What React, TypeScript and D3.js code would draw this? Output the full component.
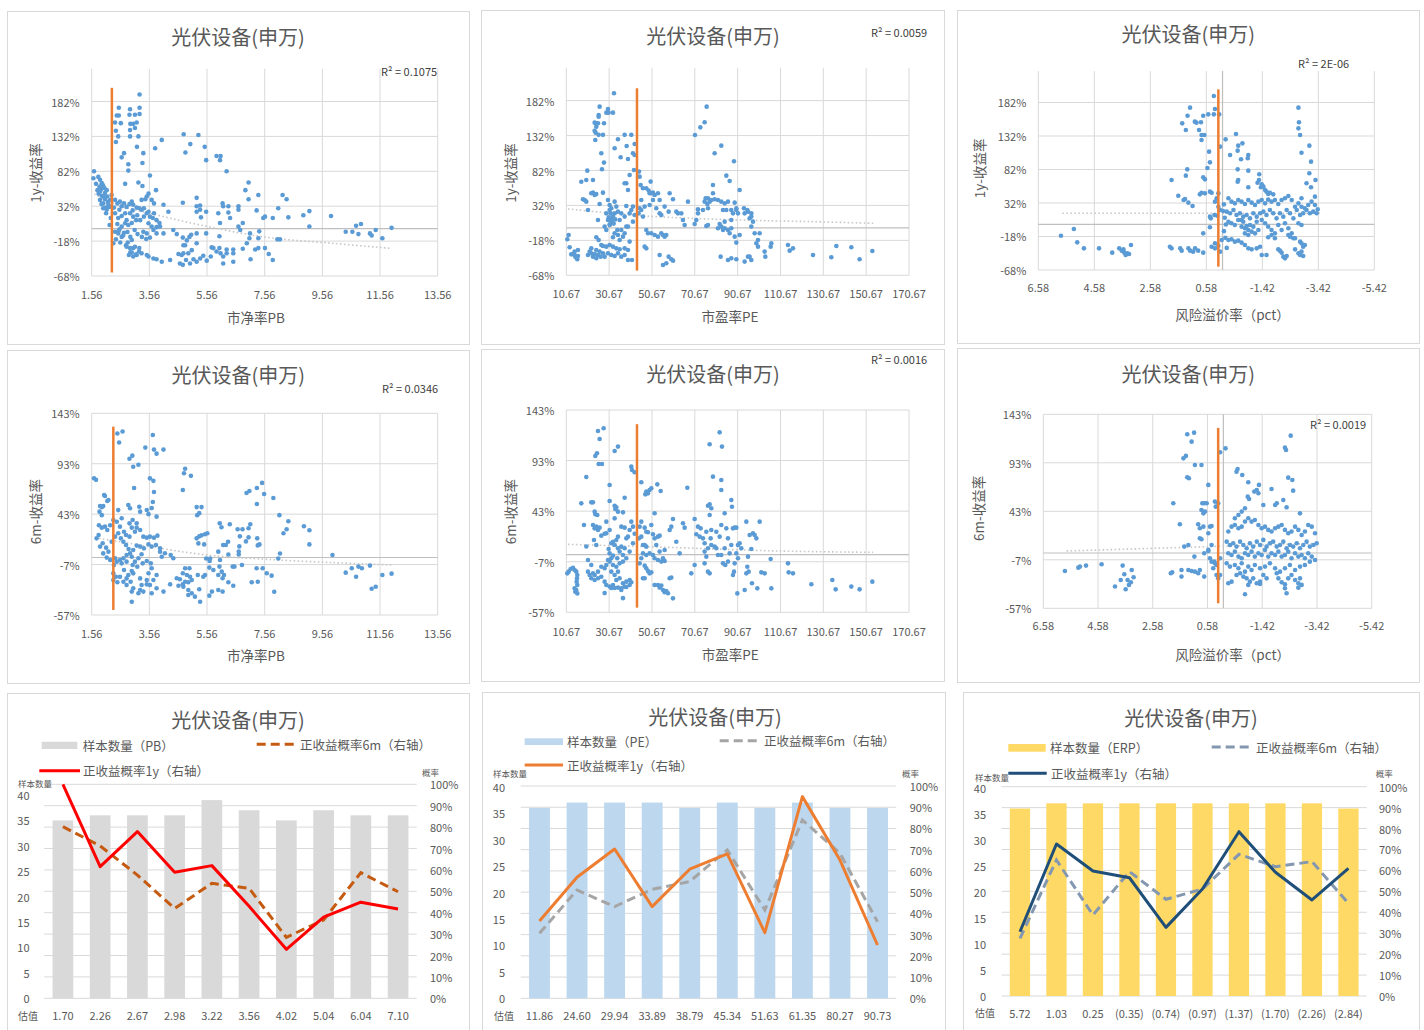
import React from 'react';
import * as d3 from 'd3';

type P = [number, number];

// ---------------- DATA ----------------
const chartTitle = '光伏设备(申万)';
const pbTicks = [1.56, 3.56, 5.56, 7.56, 9.56, 11.56, 13.56];
const peTicks = [10.67, 30.67, 50.67, 70.67, 90.67, 110.67, 130.67, 150.67, 170.67];
const erpTicks = [6.58, 4.58, 2.58, 0.58, -1.42, -3.42, -5.42];
const ret1yTicks = [-0.68, -0.18, 0.32, 0.82, 1.32, 1.82];
const ret6mTicks = [-0.57, -0.07, 0.43, 0.93, 1.43];
const ret1yDomain: P = [-0.68, 2.29];
const ret6mDomain: P = [-0.57, 1.43];
const r2Labels = ['R² = 0.1075', 'R² = 0.0059', 'R² = 2E-06', 'R² = 0.0346', 'R² = 0.0016', 'R² = 0.0019'];

// current value marker lines: [x, low, high]
const curPB1y = [2.26, -0.63, 2.016];
const curPE1y = [43.67, -0.613, 1.997];
const curERP1y = [0.15, -0.63, 2.016];
const curPB6m = [2.31, -0.52, 1.298];
const curPE6m = [43.67, -0.524, 1.29];
const curERP6m = [0.19, -0.518, 1.29];

// trend lines
const trendPB1y: P[] = [[1.65, 0.495], [2.5, 0.33], [3.58, 0.218], [5.32, 0.051], [7.63, -0.126], [9.94, -0.212], [11.9, -0.283]];
const trendPE1y: P[] = [[11.45, 0.27], [47.25, 0.17], [90.83, 0.112], [125.07, 0.088], [154.64, 0.064]];
const trendERP1y: P[] = [[5.72, 0.166], [-3.48, 0.166]];
const trendPB6m: P[] = [[1.68, 0.197], [3.58, 0.108], [5.55, 0.025], [7.63, -0.018], [9.94, -0.051], [12.02, -0.074]];
const trendPE6m: P[] = [[11.45, 0.102], [62.81, 0.069], [109.5, 0.036], [153.9, 0.023]];
const trendERP6m: P[] = [[5.73, 0.021], [-3.47, 0.10]];

const pb1y: P[] = [
[3.22,1.92],[2.50,1.73],[2.89,1.71],[3.22,1.73],[2.43,1.62],[2.50,1.62],[2.87,1.63],[3.06,1.63],[3.22,1.64],[2.37,1.52],[2.57,1.51],[2.90,1.50],[3.0,1.50],[3.12,1.52],[2.40,1.40],[2.89,1.41],[3.06,1.44],[2.48,1.32],[2.89,1.32],[3.18,1.32],[2.40,1.24],[3.13,1.17],[2.60,1.02],[2.68,1.08],[3.35,1.08],[3.32,0.94],[2.83,0.92],[2.83,0.83],[2.72,0.64],[3.18,0.66],[3.32,0.61],[3.58,0.76],[3.79,0.55],[3.99,1.27],[3.76,1.15],
[4.75,1.35],[5.26,1.34],[4.98,1.21],[4.81,1.09],[5.48,1.17],[5.53,0.98],[5.89,1.04],[6.03,1.04],[6.01,0.98],[6.24,0.82],[7.0,0.66],[6.89,0.55],[7.0,0.42],[7.34,0.48],[8.18,0.48],[8.32,0.42],[5.2,0.44],[4.72,0.37],[4.05,0.34],[4.22,0.24],[5.2,0.32],[5.32,0.33],[5.32,0.27],[5.2,0.24],[5.35,0.16],[5.53,0.24],[5.95,0.22],[6.10,0.36],[6.12,0.32],[6.30,0.32],[6.30,0.23],[6.36,0.15],[6.01,0.08],[6.65,0.32],[6.65,0.27],[7.28,0.26],[7.51,0.15],[7.57,0.17],[7.84,0.15],[8.03,0.29],[8.38,0.16],[8.90,0.19],[9.11,0.25],[9.11,0.03],[9.86,0.18],[10.37,-0.045],[10.60,-0.045],[10.81,-0.08],[10.73,0.04],[10.90,0.065],[11.21,-0.07],[11.27,-0.10],[11.41,-0.02],[11.64,-0.14],[11.96,0.01],[6.65,0.03],[6.71,-0.02],[6.80,0.08],[7.05,-0.07],[7.37,-0.04],[7.03,-0.14],[6.94,-0.21],[8.0,-0.155],[8.09,-0.155],[7.34,-0.14],[7.23,-0.30],[7.34,-0.28],[7.57,-0.28],[7.70,-0.365],[7.84,-0.45],[7.07,-0.44],
[6.80,-0.29],[6.47,-0.30],[6.47,-0.355],[6.24,-0.30],[6.24,-0.355],[6.12,-0.40],[6.12,-0.50],[6.47,-0.475],[5.99,-0.28],[5.89,-0.33],[6.03,-0.355],[5.78,-0.28],[5.69,-0.40],[5.55,-0.46],[5.43,-0.39],[5.32,-0.43],[5.2,-0.475],[5.09,-0.44],[4.97,-0.50],[4.83,-0.45],[4.74,-0.355],[4.68,-0.38],[4.62,-0.50],[4.72,-0.52],[4.57,-0.365],[4.91,-0.355],[5.03,-0.31],[4.95,-0.12],[5.01,-0.09],[4.86,-0.17],[4.80,-0.24],[5.2,-0.07],[5.2,-0.21],[5.53,-0.07],[5.72,-0.27],[5.99,-0.11],[4.39,-0.02],[4.51,-0.08],[4.72,-0.13],[4.74,-0.24],[4.28,-0.45],[3.99,-0.475],[3.81,-0.44],[3.70,-0.43],[3.53,-0.40],[3.47,-0.38],[3.29,-0.355],[3.12,-0.38],[3.0,-0.40],[2.95,-0.345],[3.21,-0.28],[3.06,-0.26],[2.89,-0.28],[2.77,-0.26],[2.95,-0.165],[2.81,-0.20],[2.60,-0.12],[2.48,-0.07],[2.37,-0.045],[2.31,-0.21],[2.40,-0.155],[2.52,-0.01],[2.68,-0.06],[3.70,-0.02],[3.81,-0.07],[3.93,0.03],[4.05,-0.07],[3.47,-0.07],[3.58,-0.13],[3.35,-0.045],
[1.64,0.82],[1.62,0.72],[1.79,0.74],[1.85,0.70],[1.91,0.65],[1.83,0.60],[1.96,0.58],[1.85,0.53],[2.02,0.51],[1.91,0.47],[2.08,0.55],[2.10,0.46],[2.02,0.42],[1.96,0.36],[2.14,0.34],[1.96,0.29],[2.08,0.27],[2.17,0.31],[2.06,0.22],[2.20,0.41],[2.25,0.48],[1.76,0.55],[1.85,0.41],[1.71,0.64],[1.80,0.50],[1.95,0.62],[2.00,0.45],[2.12,0.38],[1.90,0.35],[2.05,0.30],[2.22,0.15],[2.18,0.05],[2.0,0.58],[1.88,0.56],
[2.37,0.41],[2.45,0.36],[2.54,0.385],[2.60,0.32],[2.68,0.36],[2.77,0.31],[2.87,0.35],[2.95,0.385],[3.0,0.34],[3.12,0.30],[3.21,0.29],[3.29,0.27],[3.37,0.29],[3.47,0.22],[3.53,0.24],[3.58,0.17],[3.68,0.15],[3.72,0.22],[3.81,0.12],[3.91,0.08],[2.72,0.22],[2.60,0.18],[2.48,0.15],[2.37,0.22],[2.89,0.22],[3.0,0.17],[3.10,0.12],[2.95,0.08],[2.83,0.05],[2.72,0.075],[2.60,0.03],[2.45,0.065],[3.24,0.12],[3.37,0.17],[3.53,0.075],[3.64,0.03],[3.81,0.02],[3.14,0.19],[2.98,0.26],[2.77,0.12],[2.52,0.27],[2.33,0.30],[3.29,0.41],[3.47,0.46],[3.53,0.50],[3.42,0.42],[3.64,0.41],[3.72,0.36],
[2.5,-0.03],[2.65,-0.10],[2.8,-0.05],[2.9,-0.12],[3.05,-0.02],[3.15,-0.08],[3.3,-0.12],[3.45,-0.15],[2.55,-0.20],[2.75,-0.24],[3.0,-0.28],[3.2,-0.33],[2.9,-0.34],[3.1,-0.37],[2.85,-0.38]
];

const pb6m: P[] = [
[1.64,0.786],[1.71,0.77],[2.45,1.23],[2.63,1.25],[2.51,1.14],[3.68,1.215],[3.42,1.09],[3.72,1.07],[3.81,1.03],[4.05,1.07],[2.87,0.98],[2.97,1.01],[3.0,0.90],[3.18,0.92],[3.03,0.69],[3.58,0.785],[3.70,0.76],[3.72,0.65],[3.68,0.55],[3.64,0.49],[4.80,0.88],[4.76,0.835],[5.0,0.81],[4.72,0.67],[5.2,0.50],[5.37,0.50],[5.29,0.44],[5.22,0.42],[6.93,0.64],[7.03,0.66],[7.29,0.69],[7.47,0.74],[7.54,0.63],[7.29,0.53],[7.86,0.59],[8.07,0.42],[8.38,0.36],[8.32,0.28],[8.21,0.24],[8.92,0.31],[9.11,0.27],[9.11,0.13],[8.09,0.04],[8.03,-0.01],[9.91,0.025],[10.37,-0.15],[10.58,-0.107],[10.81,-0.09],[10.93,-0.107],[10.73,-0.19],[11.21,-0.08],[11.64,-0.173],[11.96,-0.16],[11.27,-0.31],[11.41,-0.29],
[7.06,0.33],[7.0,0.29],[6.79,0.28],[6.62,0.28],[6.70,0.21],[6.91,0.16],[7.0,0.20],[7.30,0.19],[7.38,0.13],[7.32,0.12],[6.68,0.11],[6.66,0.06],[6.66,0.03],[6.45,-0.09],[6.77,-0.074],[6.30,0.03],[6.0,0.34],[6.06,0.30],[6.35,0.33],[6.29,0.157],[6.21,0.124],[6.12,0.124],
[5.2,0.19],[5.29,0.21],[5.37,0.22],[5.49,0.23],[5.57,0.24],[5.26,0.14],[5.46,0.13],[5.53,-0.01],[5.67,-0.01],[5.65,-0.035],[5.95,0.058],[6.01,-0.025],[5.99,-0.09],[6.51,-0.09],
[7.28,-0.107],[7.49,-0.107],[7.63,-0.156],[7.80,-0.18],[7.89,-0.34],[7.32,-0.24],[7.11,-0.246],
[5.64,-0.10],[5.78,-0.124],[5.95,-0.173],[6.07,-0.14],[6.15,-0.173],[6.10,-0.206],[6.30,-0.246],[6.47,-0.28],[6.10,-0.338],[5.95,-0.322],[5.73,-0.338],[5.64,-0.378],[5.32,-0.438],[5.29,-0.315],[5.43,-0.19],[5.49,-0.173],[5.24,-0.173],
[4.80,-0.107],[4.95,-0.107],[4.72,-0.156],[4.86,-0.173],[4.97,-0.19],[5.03,-0.223],[4.91,-0.246],[4.80,-0.24],[4.72,-0.266],[4.62,-0.216],[4.51,-0.206],[4.57,-0.28],[4.74,-0.29],[4.91,-0.322],[5.03,-0.355],[5.14,-0.388],[4.91,-0.372],[4.28,-0.266],
[3.93,0.058],[4.10,0.042],[3.99,0.008],[4.30,0.025],[4.39,-0.008],[4.05,-0.338],[3.81,-0.305],[3.64,-0.355],[3.58,-0.273],[3.70,-0.223],[3.81,-0.173],[3.64,-0.107],[3.53,-0.156],[3.47,-0.223],[3.29,-0.273],[3.24,-0.322],[3.35,-0.338],[3.18,-0.355],[3.0,-0.305],[2.95,-0.338],[2.95,-0.438],[2.77,-0.273],[2.66,-0.24],
[1.85,0.51],[1.91,0.50],[1.96,0.51],[1.83,0.455],[1.91,0.42],[1.99,0.62],[2.14,0.57],[1.81,0.32],[1.91,0.296],[2.02,0.306],[2.10,0.273],[2.20,0.32],[2.31,0.372],[2.43,0.355],[2.48,0.47],[2.54,0.306],[2.60,0.39],[2.68,0.256],[2.75,0.223],[2.87,0.207],[2.95,0.296],[3.06,0.256],[3.12,0.296],[3.24,0.273],[3.35,0.207],[3.47,0.197],[3.58,0.207],[3.72,0.197],[3.84,0.217],[3.93,0.091],[3.79,0.124],[3.64,0.108],[3.53,0.131],[3.37,0.091],[3.24,0.108],[3.12,0.118],[3.0,0.075],[2.89,0.041],[2.77,0.025],[2.66,-0.008],[2.54,-0.025],[2.43,-0.041],[2.33,-0.074],[2.20,-0.025],[2.08,-0.001],[1.96,0.041],[1.85,0.108],[1.73,0.19],[1.80,0.223],[1.94,0.141],[2.06,0.098],[2.14,0.058],[2.25,0.157],[2.37,0.207],[2.48,0.24],[2.57,0.19],[2.66,0.157],[2.75,0.124],[2.84,0.085],[2.95,0.008],[3.06,-0.041],[3.18,-0.008],[3.29,0.032],[3.47,-0.035],[3.61,-0.058],[2.77,-0.041],[2.60,-0.058],[2.98,-0.074],[3.14,-0.091],[3.33,-0.058],[2.95,-0.134],[2.83,-0.173],[2.68,-0.124],[2.54,-0.19],[2.40,-0.19],[2.31,-0.223],[2.45,-0.246],[2.31,-0.157],[2.77,-0.207],[2.91,-0.24],[3.24,-0.207],[3.47,-0.266],[3.0,-0.157],[2.37,-0.008],[2.83,0.521],[2.89,0.488],[3.21,0.504],[3.24,0.455],[3.47,0.471],[3.53,0.43],[3.81,0.405],[2.98,0.372],[3.12,0.34],[2.87,0.339],[2.10,0.56],[2.02,0.61]
];

const pe1y: P[] = [
[11.14,-0.165],[11.76,-0.103],[12.23,-0.279],[13.78,-0.375],[14.56,-0.389],[15.03,-0.422],[15.81,-0.451],[16.12,-0.403],[14.56,-0.341],[13.0,-0.38],[16.12,-0.317],
[20.79,-0.389],[22.34,-0.365],[23.12,-0.413],[23.9,-0.375],[24.68,-0.437],[21.57,-0.341],[25.46,-0.389],[26.23,-0.341],[22.34,-0.294],[24.68,-0.317],[26.7,-0.413],[27.79,-0.365],
[28.57,-0.413],[30.13,-0.365],[31.68,-0.389],[33.24,-0.403],[34.8,-0.365],[36.35,-0.413],[37.91,-0.389],[39.46,-0.46],[41.33,-0.46],[29.35,-0.27],[30.9,-0.246],[32.46,-0.27],[34.02,-0.294],[35.57,-0.308],[37.91,-0.294],[39.46,-0.317],[27.01,-0.246],[27.79,-0.26],[40.24,-0.198],[24.68,-0.136],[25.77,-0.174],
[32.93,1.925],[26.23,1.734],[30.13,1.70],[30.44,1.648],[29.35,1.648],[32.46,1.648],[25.77,1.615],[25.77,1.59],[23.9,1.505],[24.68,1.496],[25.46,1.496],[28.26,1.496],[24.68,1.448],[23.9,1.39],[24.37,1.362],[25.77,1.33],[27.79,1.33],[24.21,1.257],[37.91,1.33],[41.02,1.33],[34.8,1.267],[33.24,1.138],[38.84,1.171],[42.58,1.20],[41.8,1.066],[42.58,1.042],[36.04,1.009],[39.46,0.985],[27.01,1.066],[28.26,0.933],[27.32,0.837],[42.27,0.828],
[17.67,0.66],[20.01,0.684],[20.48,0.818],[23.12,0.684],[22.34,0.494],[23.9,0.47],[19.23,0.398],[20.01,0.374],[23.12,0.503],[24.68,0.484],[26.23,0.341],[25.46,0.112],[20.79,0.255],[27.79,0.503],[18.45,0.408],
[30.13,0.398],[30.9,0.327],[31.68,0.279],[31.37,0.207],[32.46,0.16],[31.68,0.088],[30.9,0.04],[33.24,0.374],[34.02,0.303],[34.8,0.231],[35.57,0.112],[34.48,-0.031],[33.24,-0.079],[36.35,-0.031],[37.91,-0.079],[38.69,0.017],[37.91,0.16],[40.24,0.207],[41.02,0.255],[41.8,0.303],[42.58,0.184],[41.8,0.088],[39.46,0.017],[37.13,-0.127],[35.57,-0.174],[34.8,-0.103],[32.46,-0.136],[29.35,-0.031],[28.57,0.017],[30.13,0.112],[29.35,0.207],[30.9,0.255],[33.24,0.207],[36.35,0.207],[38.69,0.312],[38.69,0.637],[37.91,0.637],[39.46,0.541],[40.24,0.756],[31.0,0.05],[31.5,0.13],[32.0,0.10],[30.5,0.15],[32.8,0.06],[33.5,0.12],
[44.6,0.804],[44.91,0.732],[45.38,0.613],[46.47,0.565],[48.02,0.565],[49.11,0.532],[50.05,0.661],[50.36,0.494],[51.91,0.47],[53.47,0.494],[54.25,0.398],[51.14,0.398],[49.58,0.327],[47.25,0.303],[45.69,0.255],[44.44,0.207],[46.47,0.16],[48.02,-0.031],[48.8,-0.079],[50.36,-0.079],[51.91,-0.103],[53.47,-0.127],[55.03,-0.079],[55.81,-0.103],[56.58,-0.127],[57.36,-0.103],[47.25,-0.27],[48.02,-0.294],[44.91,0.279],[45.69,0.398],[49.58,0.494],[51.14,0.503],[52.69,0.279],[54.25,0.207],[55.03,0.184],[56.58,0.303],[58.45,0.231],
[54.25,-0.389],[55.81,-0.532],[57.36,-0.508],[58.45,-0.413],[59.7,-0.451],[60.5,-0.47],
[58.92,0.494],[60.48,0.408],[62.03,0.231],[62.81,0.207],[64.37,0.207],[65.14,0.112],[65.92,0.04],[67.48,0.374],[70.59,0.055],[71.37,0.112],[72.15,0.207],[72.15,0.265],[74.48,0.255],[76.82,0.279],
[70.75,1.329],[73.24,1.438],[75.26,1.51],[76.2,1.734],[83.04,1.176],[79.93,1.066],[88.96,0.952],[85.38,0.746],[86.94,0.67],[79.15,0.613],[79.15,0.494],[75.73,0.422],[76.82,0.422],[77.6,0.374],[78.37,0.398],[75.26,0.374],[76.51,0.341],[79.93,0.408],[81.49,0.398],[83.04,0.374],[84.6,0.35],[86.16,0.374],[87.71,0.255],[89.27,0.36],[90.05,0.255],[90.83,0.207],[91.6,0.541],[90.05,0.279],[88.49,0.207],[83.82,0.255],[85.38,0.255],[87.71,0.112],[84.6,0.088],[83.04,0.017],[81.49,-0.007],[82.26,0.055],[83.82,-0.031],[84.6,-0.007],[86.16,-0.031],[89.27,-0.127],[90.05,-0.212],[91.6,-0.103],[76.82,0.04],[76.04,0.026],[82.73,-0.413],[86.16,-0.46],[87.71,-0.437],[90.05,-0.451],[93.94,-0.484],[95.5,-0.413],[97.05,-0.46],[96.27,-0.413],[98.61,-0.079],[97.05,0.017],[100.17,-0.174],[100.94,-0.079],[99.39,-0.222],[100.17,-0.27],[103.28,-0.341],[103.59,-0.413],[106.39,-0.222],[106.08,-0.27],[114.17,-0.246],[114.95,-0.327],[116.5,-0.294],[125.85,-0.389],[134.4,-0.422],[136.74,-0.26],[143.74,-0.279],[147.6,-0.451],[153.55,-0.332],[93.94,0.207],[95.5,0.231],[97.05,0.16],[96.27,0.136],[93.63,0.279],[95.18,0.255],[97.05,0.207],[97.83,0.088],[87.71,-0.007],[86.94,-0.079]
];

const pe6m: P[] = [
[11.14,-0.185],[11.76,-0.168],[12.69,-0.142],[13.78,-0.129],[14.56,-0.152],[15.34,-0.168],[15.81,-0.201],[15.65,-0.234],[15.5,-0.267],[15.81,-0.30],[15.34,-0.349],[14.87,-0.366],[14.56,-0.333],[15.81,-0.383],
[18.92,0.293],[20.01,0.768],[17.67,0.507],[20.79,-0.053],[20.01,0.08],
[25.46,1.222],[28.1,1.249],[26.23,1.143],[24.21,0.975],[25.0,1.002],[25.77,0.896],[27.32,0.896],[33.24,1.025],[34.8,1.068],[41.02,0.87],[41.33,0.837],[42.58,0.814],[37.91,0.563],[30.9,0.689],[33.24,0.484],[34.02,0.468],[33.55,0.451],[30.9,0.53],[34.8,0.425],[37.13,0.418],[23.12,0.517],[22.34,0.517],[23.9,0.425],[24.21,0.399],[25.15,0.392],
[23.12,0.293],[23.9,0.26],[24.68,0.277],[25.46,0.244],[26.23,0.267],[27.01,0.188],[28.57,0.207],[29.35,0.211],[30.9,0.244],[31.68,0.112],[32.46,0.128],[33.24,0.096],[34.02,0.145],[34.8,0.063],[35.57,0.03],[36.35,0.079],[37.13,-0.003],[37.91,0.063],[38.69,0.161],[39.46,0.178],[40.24,0.244],[41.02,0.326],[41.8,0.277],[42.58,0.207],[41.8,0.112],[40.24,0.03],[38.69,-0.036],[37.13,-0.069],[35.57,-0.086],[34.02,-0.119],[32.46,-0.102],[31.68,-0.036],[30.9,0.013],[30.13,-0.053],[29.35,-0.102],[28.57,-0.135],[27.01,-0.119],[25.46,-0.168],[23.9,-0.201],[23.12,-0.185],[22.34,-0.234],[23.9,-0.251],[25.46,-0.234],[27.01,-0.218],[28.57,-0.267],[29.35,-0.30],[30.9,-0.316],[32.46,-0.30],[34.02,-0.251],[35.57,-0.234],[37.13,-0.283],[37.91,-0.316],[36.35,-0.333],[34.8,-0.326],[38.69,-0.267],[40.24,-0.251],[41.02,-0.273],[31.68,-0.168],[33.24,-0.201],[34.8,-0.168],[20.79,-0.168],[21.57,-0.201],[22.34,-0.102],[24.68,0.096],[23.59,0.145],[34.8,0.178],[36.35,0.277],[33.24,0.359],[29.35,0.326],[37.91,0.267],[32.46,-0.01],[34.48,-0.036],[30.9,-0.069],[30.44,0.056],
[28.57,-0.38],[31.68,-0.33],[33.24,-0.33],[36.35,-0.35],[37.13,-0.43],[38.69,-0.32],[40.24,-0.30],
[45.69,0.715],[47.56,0.596],[48.02,0.623],[48.8,0.606],[49.58,0.639],[50.36,0.656],[53.16,0.695],[54.72,0.629],[51.91,0.409],[45.69,0.326],[44.91,0.277],[47.25,0.267],[48.02,0.227],[48.8,0.221],[50.36,0.293],[51.14,0.201],[51.91,0.161],[53.47,0.178],[54.25,0.188],[52.69,0.096],[46.47,0.096],[47.25,0.096],[48.02,0.079],[45.69,0.178],[44.6,0.161],[46.47,0.013],[48.02,-0.003],[49.58,0.013],[51.14,-0.003],[51.91,-0.036],[53.47,-0.053],[55.03,-0.069],[55.81,-0.036],[56.58,-0.063],[56.58,0.046],[54.25,0.03],[47.25,-0.109],[48.02,-0.135],[48.8,-0.161],[49.58,-0.185],[50.36,-0.175],[47.25,-0.234],[46.47,-0.234],[51.91,-0.30],[53.47,-0.30],[55.03,-0.306],[54.25,-0.326],[55.81,-0.349],[56.58,-0.372],[58.14,-0.382],[57.36,-0.359],[58.92,-0.234],[59.7,-0.227],[60.48,-0.432],[45.69,-0.036],[44.91,-0.086],
[58.92,0.244],[59.7,0.277],[60.48,0.353],[62.03,0.128],[63.59,0.013],[65.14,0.31],[65.92,0.267],[67.17,0.662],[70.59,0.353],[71.37,0.201],[72.15,0.277],[72.93,0.178],[73.4,0.26],[69.03,-0.185],[70.59,-0.102],[75.26,0.112],[76.04,0.227],[76.82,0.484],[77.6,0.497],[78.37,0.458],[77.6,0.392],[78.37,0.244],[78.06,0.161],[76.82,0.063],[76.04,-0.02],[75.26,0.03],[74.48,0.161],[78.37,0.096],[79.93,0.079],[80.71,0.063],[81.49,-0.003],[80.71,0.227],[82.26,0.178],[83.04,0.293],[84.6,0.409],[85.38,0.26],[86.16,0.161],[84.6,0.063],[83.04,-0.003],[83.82,-0.086],[84.91,-0.102],[86.16,-0.069],[86.94,0.013],[87.71,0.096],[88.49,0.26],[89.27,0.267],[90.05,0.267],[87.71,0.54],[88.02,0.474],[79.15,0.771],[83.04,0.738],[83.04,0.639],[77.6,-0.185],[76.82,-0.168],[75.26,-0.086],[82.26,1.209],[83.35,1.068],[77.6,1.091],
[90.83,0.096],[91.6,0.112],[92.38,0.063],[90.05,0.013],[90.83,-0.036],[89.27,-0.086],[88.49,-0.201],[88.96,-0.168],[90.52,-0.383],[93.94,-0.349],[95.18,-0.119],[95.81,-0.168],[94.72,-0.185],[95.5,-0.02],[94.72,0.326],[96.27,0.194],[97.83,0.211],[98.61,0.194],[99.39,0.161],[100.94,0.326],[97.05,0.056],[106.08,-0.043],[103.28,-0.185],[101.72,-0.175],[97.36,-0.283],[99.85,-0.333],[106.39,-0.333],[114.17,-0.086],[114.48,-0.175],[116.5,-0.185],[125.07,-0.293],[134.87,-0.251],[136.43,-0.343],[143.74,-0.316],[147.6,-0.343],[153.55,-0.267]
];

const erp1y: P[] = [
[5.77,-0.168],[5.31,-0.068],[5.19,-0.267],[4.95,-0.357],[4.41,-0.357],[3.94,-0.421],[3.69,-0.357],[3.60,-0.391],[3.51,-0.421],[3.46,-0.456],[3.40,-0.431],[3.34,-0.441],[3.27,-0.307],[3.54,-0.372],
[1.88,-0.332],[1.82,-0.357],[1.51,-0.357],[1.46,-0.391],[1.22,-0.357],[1.16,-0.391],[1.05,-0.406],[0.98,-0.357],[0.87,-0.391],[0.69,-0.421],[1.58,0.429],[1.39,0.365],[1.34,0.38],[1.22,0.325],[1.07,0.275],[0.63,0.464],[0.45,0.489],[0.75,0.474],[0.81,0.449],[1.82,0.663],[1.31,0.728],[1.26,0.822],[0.69,0.703],[0.63,0.673],[0.45,0.927],[0.39,0.474],[0.48,1.086],[0.54,0.842],[0.69,-0.133],[0.45,-0.043],[0.45,0.116],[0.42,0.091],[0.29,0.141],[0.19,0.131],[0.09,0.216],[0.15,0.265],[0.21,0.39],[0.15,0.464],[0.27,0.34],[0.39,-0.332],[0.27,-0.282],[0.15,-0.317],[0.03,-0.232],[0.09,-0.406],[0.27,-0.357],
[0.31,1.917],[1.16,1.743],[0.27,1.723],[1.25,1.623],[0.69,1.623],[0.51,1.643],[0.31,1.643],[0.12,1.643],[1.44,1.509],[0.99,1.534],[0.93,1.519],[0.77,1.524],[0.84,1.409],[1.31,1.409],[0.75,1.335],[0.65,1.335],[0.75,1.26],[0.09,1.161],[-0.11,1.27],
[-0.48,1.35],[-0.56,1.176],[-0.71,1.21],[-0.54,1.101],[-0.92,1.036],[-0.90,0.987],[-0.66,0.972],[-0.27,1.036],[-0.54,0.822],[-0.92,0.803],[-0.54,0.638],[-0.56,0.663],[-1.31,0.748],[-1.30,0.663],[-1.40,0.599],[-1.46,0.564],[-1.52,0.514],[-1.57,0.489],[-1.63,0.454],[-1.69,0.474],[-1.81,0.449],[-1.37,0.554],[-1.25,0.623],[-0.92,0.554],[-2.71,1.743],[-2.73,1.524],[-2.71,1.434],[-2.77,1.335],[-2.82,1.071],[-3.10,1.176],[-3.16,0.937],[-3.10,0.763],[-3.32,0.663],[-3.0,0.614],[-3.16,0.554],[-3.30,0.415],[-2.82,0.39],
[-0.21,0.39],[-0.32,0.34],[-0.44,0.315],[-0.56,0.365],[-0.68,0.34],[-0.80,0.305],[-0.92,0.365],[-1.04,0.325],[-1.16,0.29],[-1.28,0.34],[-1.40,0.365],[-1.52,0.315],[-1.63,0.37],[-1.75,0.34],[-1.87,0.365],[-1.99,0.305],[-2.11,0.365],[-2.23,0.39],[-2.35,0.424],[-2.47,0.365],[-2.59,0.265],[-2.71,0.315],[-2.82,0.265],[-2.94,0.24],[-3.06,0.29],[-3.18,0.34],[-3.30,0.29],[-3.40,0.225],
[-0.15,0.191],[-0.27,0.166],[-0.39,0.216],[-0.50,0.141],[-0.62,0.166],[-0.74,0.116],[-0.86,0.141],[-0.98,0.091],[-1.10,0.166],[-1.22,0.116],[-1.34,0.166],[-1.46,0.191],[-1.57,0.141],[-1.69,0.216],[-1.81,0.166],[-1.93,0.091],[-2.05,0.166],[-2.17,0.116],[-2.29,0.216],[-2.41,0.166],[-2.53,0.091],[-2.65,0.216],[-2.77,0.141],[-2.88,0.166],[-3.0,0.216],[-3.12,0.166],[-3.24,0.191],[-3.36,0.166],
[-0.21,0.041],[-0.32,0.017],[-0.44,-0.008],[-0.56,0.066],[-0.68,-0.033],[-0.80,-0.058],[-0.92,-0.083],[-0.98,-0.008],[-1.04,-0.108],[-1.10,-0.033],[-1.16,-0.133],[-1.28,-0.083],[-1.40,0.066],[-1.52,0.017],[-1.63,-0.033],[-1.75,-0.083],[-1.87,-0.133],[-1.99,-0.008],[-2.11,-0.083],[-2.23,0.017],[-2.35,-0.058],[-2.47,-0.133],[-2.59,-0.207],[-2.71,0.017],[-2.82,-0.008],[-0.80,-0.133],[-0.92,-0.158],[-0.74,0.041],[-0.86,-0.023],[-0.68,0.066],[-1.22,0.041],
[-0.21,-0.232],[-0.32,-0.222],[-0.44,-0.257],[-0.56,-0.242],[-0.68,-0.272],[-0.80,-0.307],[-0.92,-0.357],[-1.04,-0.372],[-1.22,-0.357],[-1.34,-0.332],[-1.40,-0.456],[-1.57,-0.456],[-1.63,-0.192],[-1.75,-0.158],[-1.87,-0.207],[-1.99,-0.372],[-2.05,-0.391],[-2.11,-0.421],[-2.17,-0.481],[-2.23,-0.506],[-2.29,-0.471],[-2.35,-0.158],[-2.41,-0.183],[-2.53,-0.207],[-2.59,-0.372],[-2.71,-0.431],[-2.77,-0.456],[-2.82,-0.406],[-2.88,-0.332],[-2.94,-0.307],[-2.82,-0.282],[-2.88,-0.471],[-2.77,-0.257],
[-0.05,0.30],[-0.02,0.20],[-0.08,0.10],[-0.12,0.0],[-0.05,-0.10],[-0.10,-0.20],[-0.15,-0.35]
];

const erp6m: P[] = [
[5.79,-0.185],[5.30,-0.151],[5.24,-0.14],[5.02,-0.13],[4.45,-0.116],[3.96,-0.346],[3.75,-0.278],[3.68,-0.13],[3.62,-0.219],[3.57,-0.374],[3.50,-0.278],[3.45,-0.329],[3.38,-0.302],[3.35,-0.175],[3.28,-0.25],
[1.92,-0.209],[1.87,-0.199],[1.53,-0.243],[1.53,-0.175],[1.28,-0.175],[1.16,-0.185],[1.04,-0.192],[0.92,-0.209],[0.86,-0.175],[0.70,-0.243],[1.59,0.296],[1.83,0.513],[1.43,0.066],[1.28,0.083],[1.06,-0.037],[1.04,0.908],[0.80,0.908],[1.46,0.976],[1.37,1.001],[1.32,0.781],[1.26,0.77],[1.32,1.224],[1.07,1.241],[1.16,1.148],[0.55,0.702],[0.77,0.513],[0.70,0.513],[0.61,0.513],[0.80,0.444],[0.73,0.409],[0.67,0.427],[0.92,0.296],[0.86,0.255],[0.73,0.272],[0.49,0.272],[0.43,0.279],[0.86,0.152],[0.80,0.142],[0.55,0.203],[0.43,0.083],[0.55,0.021],[0.70,-0.003],[0.49,-0.054],[0.43,-0.089],[0.31,-0.106],[0.25,-0.123],[0.37,-0.157],[0.25,-0.226],[0.12,-0.226],[0.19,-0.261],[0.31,0.53],[0.28,0.478],[0.19,0.513],[0.12,1.038],[-0.08,1.079],[0.55,0.032],[0.33,-0.089],[0.12,-0.054],
[-0.48,0.839],[-0.52,0.866],[-0.69,0.805],[-0.91,0.729],[-0.94,0.557],[-0.89,0.581],[-1.13,0.633],[-1.22,0.65],[-1.30,0.702],[-1.28,0.616],[-1.76,0.66],[-1.46,0.495],[-1.89,0.495],[-1.95,0.513],[-2.19,0.547],[-2.31,0.471],[-2.29,1.062],[-2.25,1.086],[-2.46,1.21],[-2.37,0.777],[-2.52,0.753],[-2.55,0.643],[-2.80,0.409],[-0.79,0.461],[-0.67,0.427],[-0.55,0.392],[-0.42,0.358],
[-0.18,0.221],[-0.30,0.272],[-0.42,0.289],[-0.55,0.255],[-0.67,0.272],[-0.79,0.324],[-0.91,0.358],[-1.03,0.324],[-1.15,0.341],[-1.28,0.289],[-1.40,0.255],[-1.52,0.272],[-1.64,0.238],[-1.76,0.221],[-1.89,0.255],[-2.01,0.272],[-2.13,0.289],[-2.25,0.238],[-2.37,0.203],[-2.49,0.221],[-2.62,0.272],[-2.74,0.238],[-2.86,0.186],[-2.98,0.221],[-3.10,0.289],[-3.23,0.272],[-3.35,0.203],
[-0.12,0.117],[-0.24,0.083],[-0.36,0.10],[-0.48,0.066],[-0.61,0.117],[-0.73,0.083],[-0.85,0.049],[-0.97,0.10],[-1.09,0.066],[-1.22,0.117],[-1.34,0.083],[-1.46,0.135],[-1.58,0.066],[-1.70,0.10],[-1.82,0.117],[-1.95,0.066],[-2.07,0.083],[-2.19,0.117],[-2.31,0.049],[-2.43,0.083],[-2.55,0.066],[-2.68,0.10],[-2.80,0.049],[-2.92,0.083],[-3.04,0.117],[-3.16,0.066],[-3.29,0.083],[-3.41,0.10],
[-0.18,-0.003],[-0.30,-0.02],[-0.42,0.014],[-0.55,-0.037],[-0.67,-0.054],[-0.79,-0.003],[-0.91,-0.02],[-1.03,0.014],[-1.15,-0.037],[-1.28,-0.003],[-1.40,-0.02],[-1.52,0.032],[-1.64,-0.037],[-1.76,-0.003],[-1.89,-0.02],[-2.01,0.014],[-2.13,-0.037],[-2.25,-0.02],[-2.37,0.014],[-2.49,-0.054],[-2.62,-0.003],[-2.74,-0.037],[-2.86,-0.02],[-2.98,-0.054],[-3.10,-0.003],[-3.23,-0.037],[-3.35,-0.072],
[-0.12,-0.106],[-0.24,-0.14],[-0.42,-0.123],[-0.55,-0.157],[-0.67,-0.106],[-0.79,-0.192],[-0.91,-0.14],[-1.03,-0.175],[-1.15,-0.123],[-1.34,-0.157],[-1.52,-0.14],[-1.70,-0.106],[-1.89,-0.157],[-2.07,-0.192],[-2.25,-0.157],[-2.43,-0.123],[-2.62,-0.175],[-2.80,-0.14],[-2.98,-0.123],[-3.16,-0.089],
[-0.48,-0.226],[-0.61,-0.209],[-0.73,-0.243],[-0.85,-0.261],[-0.97,-0.295],[-1.09,-0.261],[-1.22,-0.312],[-1.34,-0.295],[-1.46,-0.226],[-1.58,-0.261],[-1.95,-0.209],[-2.01,-0.261],[-2.13,-0.302],[-2.25,-0.322],[-2.37,-0.261],[-2.49,-0.226],[-2.62,-0.278],[-2.74,-0.312],[-2.86,-0.329],[-2.80,-0.261],[-0.30,-0.295],[-0.18,-0.312],[-0.79,-0.425],[-2.25,-0.363],[-2.31,-0.415],[-2.74,-0.357],[-1.34,-0.32],[-0.91,-0.329]
];

// bottom row: bucket statistics
const pbBins = ['1.70', '2.26', '2.67', '2.98', '3.22', '3.56', '4.02', '5.04', '6.04', '7.10'];
const pbCounts = [35, 36, 36, 36, 39, 37, 35, 37, 36, 36];
const pbProb1y = [1.0, 0.615, 0.779, 0.589, 0.62, 0.43, 0.229, 0.379, 0.449, 0.417];
const pbProb6m = [0.802, 0.712, 0.576, 0.42, 0.537, 0.514, 0.285, 0.366, 0.587, 0.498];

const peBins = ['11.86', '24.60', '29.94', '33.89', '38.79', '45.34', '51.63', '61.35', '80.27', '90.73'];
const peCounts = [36, 37, 37, 37, 36, 37, 36, 37, 36, 36];
const peProb1y = [0.364, 0.57, 0.703, 0.432, 0.608, 0.68, 0.309, 0.95, 0.651, 0.251];
const peProb6m = [0.306, 0.51, 0.432, 0.513, 0.55, 0.699, 0.416, 0.84, 0.683, 0.361];

const erpBins = ['5.72', '1.03', '0.25', '(0.35)', '(0.74)', '(0.97)', '(1.37)', '(1.70)', '(2.26)', '(2.84)'];
const erpCounts = [36, 37, 37, 37, 37, 37, 37, 37, 37, 36];
const erpProb1y = [0.307, 0.726, 0.597, 0.565, 0.328, 0.511, 0.785, 0.591, 0.459, 0.61];
const erpProb6m = [0.275, 0.65, 0.387, 0.594, 0.462, 0.511, 0.677, 0.618, 0.642, 0.443];

const countTicks = [0, 5, 10, 15, 20, 25, 30, 35, 40];
const probTicks = [0, 0.1, 0.2, 0.3, 0.4, 0.5, 0.6, 0.7, 0.8, 0.9, 1.0];

// ---------------- RENDERING ----------------
const FONT = '"Noto Sans CJK SC", "Noto Sans", sans-serif';
const TXT = '#595959';
const GRID = '#d9d9d9';
const DOT = '#5b9bd5';

function ScatterPanel({ c }: { c: any }) {
  const x = d3.scaleLinear().domain(c.xDomain).range([c.left, c.right]);
  const y = d3.scaleLinear().domain(c.yDomain).range([c.bottom, c.top]);
  const yTop = y(c.yDomain[1]);
  const yBot = y(c.yDomain[0]);
  const trend = d3.line<P>().x(d => x(d[0])).y(d => y(d[1])).curve(d3.curveCatmullRom);
  const pct = (v: number) => `${Math.round(v * 100)}%`;
  return (
    <g>
      <rect x={c.box[0] + 0.5} y={c.box[1] + 0.5} width={c.box[2]} height={c.box[3]} fill="#fff" stroke={GRID} />
      <text x={c.titleX} y={c.titleY} textAnchor="middle" dominantBaseline="central" fontSize={20} fill={TXT} fontFamily={FONT}>{chartTitle}</text>
      {c.yTicks.map((t: number) => (
        <line key={'h' + t} x1={c.left} x2={c.right} y1={y(t)} y2={y(t)} stroke={GRID} strokeWidth={1} />
      ))}
      {c.xTicks.map((t: number) => (
        <line key={'v' + t} x1={x(t)} x2={x(t)} y1={yTop} y2={yBot} stroke={GRID} strokeWidth={1} />
      ))}
      <line x1={c.left} x2={c.right} y1={y(0)} y2={y(0)} stroke="#bfbfbf" strokeWidth={1.2} />
      {c.zeroV && <line x1={x(0)} x2={x(0)} y1={yTop} y2={yBot} stroke="#bfbfbf" strokeWidth={1.2} />}
      <path d={trend(c.trend) || ''} fill="none" stroke="#c8c8c8" strokeWidth={1.6} strokeDasharray="1.6,2.4" />
      {c.data.map((d: P, i: number) => (
        <circle key={i} cx={x(d[0])} cy={y(d[1])} r={2.3} fill={DOT} />
      ))}
      <line x1={x(c.cur[0])} x2={x(c.cur[0])} y1={y(c.cur[1])} y2={y(c.cur[2])} stroke="#ed7d31" strokeWidth={2.5} />
      {c.yTicks.map((t: number) => (
        <text key={'yl' + t} x={c.left - 12} y={y(t)} textAnchor="end" dominantBaseline="central" fontSize={11} fill={TXT} fontFamily={FONT}>{pct(t)}</text>
      ))}
      {c.xTicks.map((t: number) => (
        <text key={'xl' + t} x={x(t)} y={c.xTickY} textAnchor="middle" dominantBaseline="central" fontSize={11} fill={TXT} fontFamily={FONT}>{t.toFixed(2)}</text>
      ))}
      <text x={c.xLabelX} y={c.xLabelY} textAnchor="middle" dominantBaseline="central" fontSize={13.5} fill={TXT} fontFamily={FONT}>{c.xLabel}</text>
      <text transform={`translate(${c.yLabelX},${c.yLabelY}) rotate(-90)`} textAnchor="middle" dominantBaseline="central" fontSize={13.5} fill={TXT} fontFamily={FONT}>{c.yLabel}</text>
      <text x={c.r2x} y={c.r2y} dominantBaseline="central" fontSize={11} fill="#404040" fontFamily={FONT}>{c.r2}</text>
    </g>
  );
}

function ComboPanel({ c }: { c: any }) {
  const xb = d3.scaleBand<string>().domain(c.cats).range([c.left, c.right]).paddingInner(0.444).paddingOuter(0.222);
  const yl = d3.scaleLinear().domain([0, 40]).range([c.bottom, c.leftTop]);
  const yr = d3.scaleLinear().domain([0, 1]).range([c.bottom, c.rightTop]);
  const cx = (cat: string) => (xb(cat) as number) + xb.bandwidth() / 2;
  const line = d3.line<number>().x((_, i) => cx(c.cats[i])).y(d => yr(d));
  const lg = c.legend;
  return (
    <g fontFamily={FONT}>
      <rect x={c.box[0] + 0.5} y={c.box[1] + 0.5} width={c.box[2]} height={c.box[3]} fill="#fff" stroke={GRID} />
      <text x={c.titleX} y={c.titleY} textAnchor="middle" dominantBaseline="central" fontSize={20} fill={TXT}>{chartTitle}</text>
      {probTicks.map(t => (
        <line key={'g' + t} x1={c.left} x2={c.right} y1={yr(t)} y2={yr(t)} stroke={GRID} strokeWidth={1} />
      ))}
      {c.cats.map((cat: string, i: number) => (
        <rect key={cat} x={xb(cat)} y={yl(c.counts[i])} width={xb.bandwidth()} height={c.bottom - yl(c.counts[i])} fill={c.barColor} />
      ))}
      <path d={line(c.p6m) || ''} fill="none" stroke={c.c6m} strokeWidth={3} strokeDasharray="9,5" />
      <path d={line(c.p1y) || ''} fill="none" stroke={c.c1y} strokeWidth={3} strokeLinejoin="round" />
      {countTicks.map(t => (
        <text key={'l' + t} x={c.leftLabelX} y={yl(t)} textAnchor="end" dominantBaseline="central" fontSize={11} fill={TXT}>{t}</text>
      ))}
      {probTicks.map(t => (
        <text key={'r' + t} x={c.rightLabelX} y={yr(t)} dominantBaseline="central" fontSize={11} fill={TXT}>{`${Math.round(t * 100)}%`}</text>
      ))}
      {c.cats.map((cat: string) => (
        <text key={'c' + cat} x={cx(cat)} y={c.catY} textAnchor="middle" dominantBaseline="central" fontSize={11} fill={TXT}>{cat}</text>
      ))}
      <text x={c.gzX} y={c.catY} dominantBaseline="central" fontSize={10} fill={TXT}>估值</text>
      <text x={c.leftTitleX} y={c.leftTitleY} dominantBaseline="central" fontSize={8.5} fill={TXT}>样本数量</text>
      <text x={c.rightTitleX} y={c.rightTitleY} dominantBaseline="central" fontSize={8.5} fill={TXT}>概率</text>
      <rect x={lg.rect[0]} y={lg.rect[1]} width={lg.rect[2]} height={lg.rect[3]} fill={c.barColor} />
      <text x={lg.t1[0]} y={lg.t1[1]} dominantBaseline="central" fontSize={12.5} fill={TXT}>{c.barName}</text>
      <line x1={lg.d[0]} x2={lg.d[1]} y1={lg.d[2]} y2={lg.d[2]} stroke={c.c6m} strokeWidth={3} strokeDasharray="9,5" />
      <text x={lg.t2[0]} y={lg.t2[1]} dominantBaseline="central" fontSize={12.5} fill={TXT}>正收益概率6m（右轴）</text>
      <line x1={lg.s[0]} x2={lg.s[1]} y1={lg.s[2]} y2={lg.s[2]} stroke={c.c1y} strokeWidth={3} />
      <text x={lg.t3[0]} y={lg.t3[1]} dominantBaseline="central" fontSize={12.5} fill={TXT}>正收益概率1y（右轴）</text>
    </g>
  );
}

export default function App() {
  const scatters = [
    { box: [7, 11, 462, 333], left: 91.7, right: 437.7, top: 68.7, bottom: 276, xDomain: [1.56, 13.56], xTicks: pbTicks, yDomain: ret1yDomain, yTicks: ret1yTicks, data: pb1y, trend: trendPB1y, cur: curPB1y, r2: r2Labels[0], r2x: 381, r2y: 71, titleX: 238, titleY: 36, xLabel: '市净率PB', xLabelX: 256, xLabelY: 317, yLabel: '1y-收益率', yLabelX: 35, yLabelY: 173, xTickY: 294 },
    { box: [481, 10, 463, 334], left: 566.3, right: 909, top: 67.8, bottom: 275.3, xDomain: [10.67, 170.67], xTicks: peTicks, yDomain: ret1yDomain, yTicks: ret1yTicks, data: pe1y, trend: trendPE1y, cur: curPE1y, r2: r2Labels[1], r2x: 871, r2y: 31.7, titleX: 713, titleY: 35, xLabel: '市盈率PE', xLabelX: 730, xLabelY: 316, yLabel: '1y-收益率', yLabelX: 510.3, yLabelY: 173, xTickY: 292.7 },
    { box: [957, 10, 462, 333], left: 1038.3, right: 1374.3, top: 71, bottom: 270, xDomain: [6.58, -5.42], xTicks: erpTicks, yDomain: ret1yDomain, yTicks: ret1yTicks, data: erp1y, trend: trendERP1y, cur: curERP1y, r2: r2Labels[2], r2x: 1298, r2y: 62.7, titleX: 1188.3, titleY: 33.3, xLabel: '风险溢价率（pct）', xLabelX: 1232.5, xLabelY: 314.3, yLabel: '1y-收益率', yLabelX: 979, yLabelY: 168.3, xTickY: 287.3, zeroV: true },
    { box: [7, 350, 462, 333], left: 91.7, right: 437.7, top: 413.3, bottom: 615, xDomain: [1.56, 13.56], xTicks: pbTicks, yDomain: ret6mDomain, yTicks: ret6mTicks, data: pb6m, trend: trendPB6m, cur: curPB6m, r2: r2Labels[3], r2x: 382, r2y: 387.7, titleX: 238.3, titleY: 374.3, xLabel: '市净率PB', xLabelX: 256, xLabelY: 655, yLabel: '6m-收益率', yLabelX: 35, yLabelY: 511.7, xTickY: 633.3 },
    { box: [481, 349, 463, 332], left: 566.3, right: 909, top: 410, bottom: 612.3, xDomain: [10.67, 170.67], xTicks: peTicks, yDomain: ret6mDomain, yTicks: ret6mTicks, data: pe6m, trend: trendPE6m, cur: curPE6m, r2: r2Labels[4], r2x: 871, r2y: 359, titleX: 713, titleY: 373.3, xLabel: '市盈率PE', xLabelX: 730.3, xLabelY: 654.3, yLabel: '6m-收益率', yLabelX: 510.3, yLabelY: 511.7, xTickY: 630.7 },
    { box: [957, 348, 462, 334], left: 1043.3, right: 1371.7, top: 414.3, bottom: 608.3, xDomain: [6.58, -5.42], xTicks: erpTicks, yDomain: ret6mDomain, yTicks: ret6mTicks, data: erp6m, trend: trendERP6m, cur: curERP6m, r2: r2Labels[5], r2x: 1310, r2y: 424.3, titleX: 1188.3, titleY: 373.3, xLabel: '风险溢价率（pct）', xLabelX: 1232.7, xLabelY: 654.3, yLabel: '6m-收益率', yLabelX: 977.7, yLabelY: 508.3, xTickY: 625, zeroV: true },
  ];
  const combos = [
    { box: [7, 693, 462, 345], left: 44.3, right: 416.7, bottom: 998.3, leftTop: 795, rightTop: 784.3, cats: pbBins, counts: pbCounts, p1y: pbProb1y, p6m: pbProb6m, barColor: '#d9d9d9', c1y: '#ff0000', c6m: '#c55a11', barName: '样本数量（PB）', leftLabelX: 29.5, rightLabelX: 430, catY: 1015, gzX: 18, leftTitleX: 18, leftTitleY: 782.5, rightTitleX: 422, rightTitleY: 771.7, titleX: 238, titleY: 719.3,
      legend: { rect: [41.7, 741.7, 35.6, 7.3], t1: [82.7, 745.3], d: [256.7, 297.3, 744.3], t2: [300, 744.3], s: [39.3, 80, 770.7], t3: [83, 770.7] } },
    { box: [482, 692, 463, 346], left: 520.7, right: 896.3, bottom: 998.3, leftTop: 786.7, rightTop: 786, cats: peBins, counts: peCounts, p1y: peProb1y, p6m: peProb6m, barColor: '#bdd7ee', c1y: '#ed7d31', c6m: '#a5a5a5', barName: '样本数量（PE）', leftLabelX: 505, rightLabelX: 909.7, catY: 1015, gzX: 494, leftTitleX: 493, leftTitleY: 773.3, rightTitleX: 902, rightTitleY: 773, titleX: 715, titleY: 716.7,
      legend: { rect: [524.7, 738.3, 38.3, 6.7], t1: [567, 741.7], d: [719.7, 760.7, 740.7], t2: [764, 740.7], s: [524.7, 563, 765], t3: [567, 765] } },
    { box: [963, 692, 456, 346], left: 1001.7, right: 1366.7, bottom: 996, leftTop: 787.7, rightTop: 786.7, cats: erpBins, counts: erpCounts, p1y: erpProb1y, p6m: erpProb6m, barColor: '#ffd966', c1y: '#1f4e79', c6m: '#8497b0', barName: '样本数量（ERP）', leftLabelX: 986, rightLabelX: 1379, catY: 1012.7, gzX: 975, leftTitleX: 975, leftTitleY: 776.5, rightTitleX: 1375.7, rightTitleY: 773.3, titleX: 1191, titleY: 717.3,
      legend: { rect: [1008.3, 744, 37.4, 7.7], t1: [1050, 747.3], d: [1211.7, 1252.7, 747], t2: [1256, 747], s: [1008.3, 1046.7, 773.3], t3: [1051, 773.3] } },
  ];
  return (
    <svg width={1424} height={1030} style={{ position: 'absolute', left: 0, top: 0, background: '#fff' }}>
      <rect x={0} y={0} width={1424} height={1030} fill="#fff" />
      {scatters.map((c, i) => <ScatterPanel key={i} c={c} />)}
      {combos.map((c, i) => <ComboPanel key={'c' + i} c={c} />)}
    </svg>
  );
}
